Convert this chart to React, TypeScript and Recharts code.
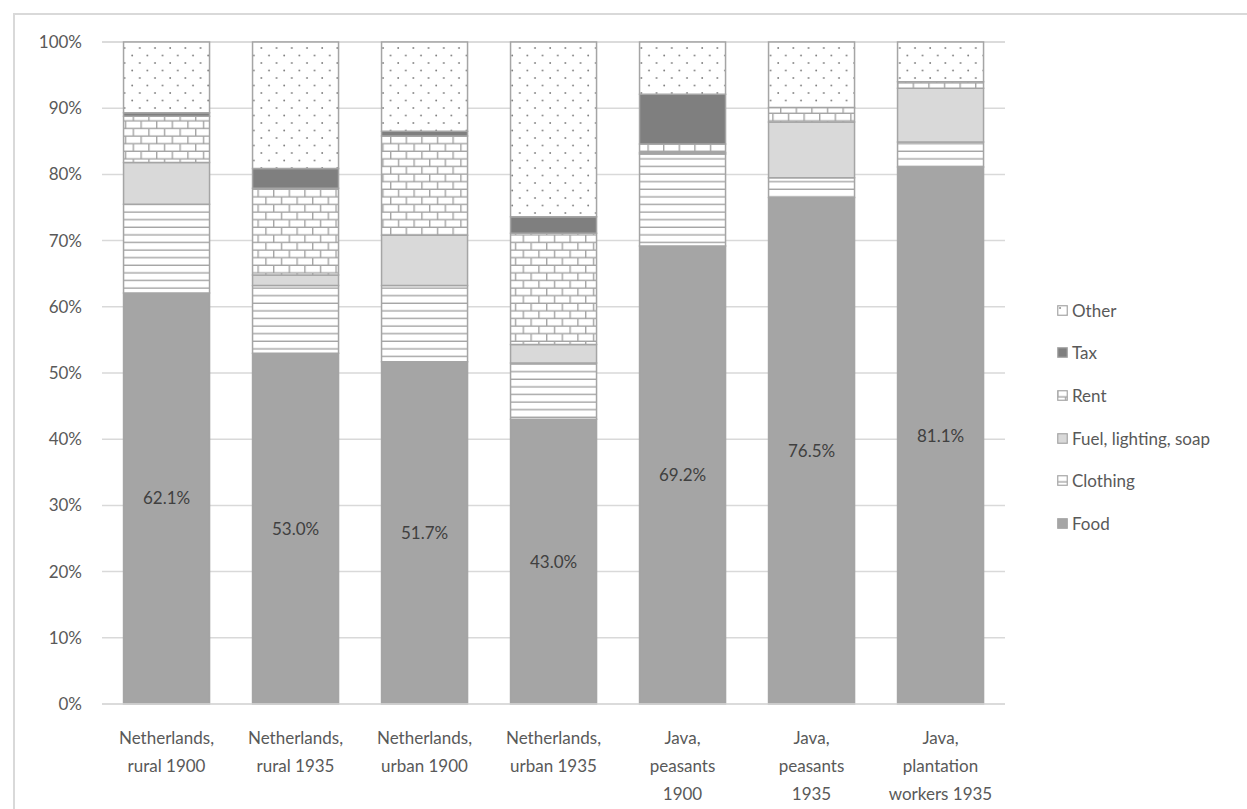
import React from "react";
import {
	BarChart,
	Bar,
	XAxis,
	YAxis,
	CartesianGrid,
	LabelList,
} from "recharts";

const categories = [
	"Netherlands,\nrural 1900",
	"Netherlands,\nrural 1935",
	"Netherlands,\nurban 1900",
	"Netherlands,\nurban 1935",
	"Java,\npeasants\n1900",
	"Java,\npeasants\n1935",
	"Java,\nplantation\nworkers 1935",
];

const food = [62.1, 53.0, 51.7, 43.0, 69.2, 76.5, 81.1];
const clothing = [13.4, 10.2, 11.5, 8.5, 13.9, 3.0, 3.8];
const fuel = [6.3, 1.6, 7.6, 2.8, 0.2, 8.4, 8.1];
const rent = [7.0, 13.1, 15.0, 16.8, 1.3, 2.2, 1.0];
const tax = [0.5, 3.0, 0.7, 2.5, 7.5, 0, 0];
const other = [10.7, 19.1, 13.5, 26.4, 7.9, 9.9, 6.0];

const yTicks = [0, 10, 20, 30, 40, 50, 60, 70, 80, 90, 100];

const series = [
	{ key: "food", name: "Food", fill: "#a5a5a5" },
	{ key: "clothing", name: "Clothing", fill: "url(#pat-stripes)" },
	{ key: "fuel", name: "Fuel, lighting, soap", fill: "#d9d9d9" },
	{ key: "rent", name: "Rent", fill: "url(#pat-brick)" },
	{ key: "tax", name: "Tax", fill: "#7f7f7f" },
	{ key: "other", name: "Other", fill: "url(#pat-dots)" },
];

const data = categories.map((name, i) => ({
	name,
	food: food[i],
	clothing: clothing[i],
	fuel: fuel[i],
	rent: rent[i],
	tax: tax[i],
	other: other[i],
}));

const FONT = "Lato, 'Open Sans', sans-serif";
const EDGE = "#a5a5a5";

const CategoryTick = (props: any) => {
	const { x, y, payload } = props;
	const lines = String(payload.value).split("\n");
	return (
		<text
			x={x}
			y={y}
			textAnchor="middle"
			fill="#595959"
			fontSize={17}
			fontFamily={FONT}
		>
			{lines.map((line, i) => (
				<tspan key={i} x={x} dy={i === 0 ? 32 : 28}>
					{line}
				</tspan>
			))}
		</text>
	);
};

const Patterns = () => (
	<svg width={0} height={0} style={{ position: "absolute" }}>
		<defs>
			<pattern
				id="pat-stripes"
				patternUnits="userSpaceOnUse"
				width={8}
				height={7.6}
			>
				<rect width={8} height={7.6} fill="#fff" />
				<rect y={6.2} width={8} height={1.4} fill={EDGE} />
			</pattern>
			<pattern
				id="pat-brick"
				patternUnits="userSpaceOnUse"
				width={15.6}
				height={15.2}
			>
				<rect width={15.6} height={15.2} fill="#fff" />
				<rect y={6.2} width={15.6} height={1.4} fill={EDGE} />
				<rect y={13.8} width={15.6} height={1.4} fill={EDGE} />
				<rect x={0} y={0} width={1.4} height={7.6} fill={EDGE} />
				<rect x={7.8} y={7.6} width={1.4} height={7.6} fill={EDGE} />
			</pattern>
			<pattern
				id="pat-dots"
				patternUnits="userSpaceOnUse"
				width={15.2}
				height={15}
			>
				<rect width={15.2} height={15} fill="#fff" />
				<circle cx={3} cy={3} r={0.9} fill="#7f7f7f" />
				<circle cx={10.6} cy={10.5} r={0.9} fill="#7f7f7f" />
			</pattern>
		</defs>
	</svg>
);

const LegendBox = () => {
	const items = [...series].reverse();
	return (
		<div
			style={{
				position: "absolute",
				left: 1057,
				top: 289,
				fontFamily: FONT,
				fontSize: 17,
				color: "#595959",
			}}
		>
			{items.map((s) => (
				<div
					key={s.key}
					style={{ height: 42.6, display: "flex", alignItems: "center" }}
				>
					<svg width={11} height={11} style={{ marginRight: 4 }}>
						<rect
							x={0.75}
							y={0.75}
							width={9.5}
							height={9.5}
							fill={s.fill}
							stroke={EDGE}
							strokeWidth={1.2}
						/>
					</svg>
					<span>{s.name}</span>
				</div>
			))}
		</div>
	);
};

const App = () => {
	return (
		<div style={{ position: "relative", width: 1247, height: 809, background: "#fff" }}>
			<style>{"body{margin:0}"}</style>
			<Patterns />
			<div
				style={{
					position: "absolute",
					left: 13,
					top: 13,
					width: 1247,
					height: 809,
					borderLeft: "2px solid #d9d9d9",
					borderTop: "2px solid #d9d9d9",
				}}
			/>
			<div style={{ position: "absolute", left: 0, top: 0 }}>
				<BarChart
					width={1247}
					height={809}
					data={data}
					margin={{ top: 42, right: 242, left: 0, bottom: 0 }}
					barCategoryGap="16.7%"
				>
					<CartesianGrid
						vertical={false}
						stroke="#d9d9d9"
						strokeWidth={1.5}
					/>
					<XAxis
						dataKey="name"
						height={105}
						interval={0}
						tickLine={false}
						axisLine={{ stroke: "#d9d9d9", strokeWidth: 1.5 }}
						tick={<CategoryTick />}
					/>
					<YAxis
						width={102}
						domain={[0, 100]}
						ticks={yTicks}
						axisLine={false}
						tickLine={false}
						tickSize={0}
						tickMargin={20}
						tickFormatter={(v) => `${v}%`}
						tick={{ fill: "#595959", fontSize: 17, fontFamily: FONT }}
					/>
					{series.map((s) => (
						<Bar
							key={s.key}
							dataKey={s.key}
							name={s.name}
							stackId="a"
							fill={s.fill}
							stroke={EDGE}
							strokeWidth={1.5}
							isAnimationActive={false}
						>
							{s.key === "food" && (
								<LabelList
									dataKey="food"
									position="center"
									formatter={(v: any) => `${Number(v).toFixed(1)}%`}
									fill="#404040"
									fontSize={17}
									fontFamily={FONT}
								/>
							)}
						</Bar>
					))}
				</BarChart>
			</div>
			<LegendBox />
		</div>
	);
};

export default App;
